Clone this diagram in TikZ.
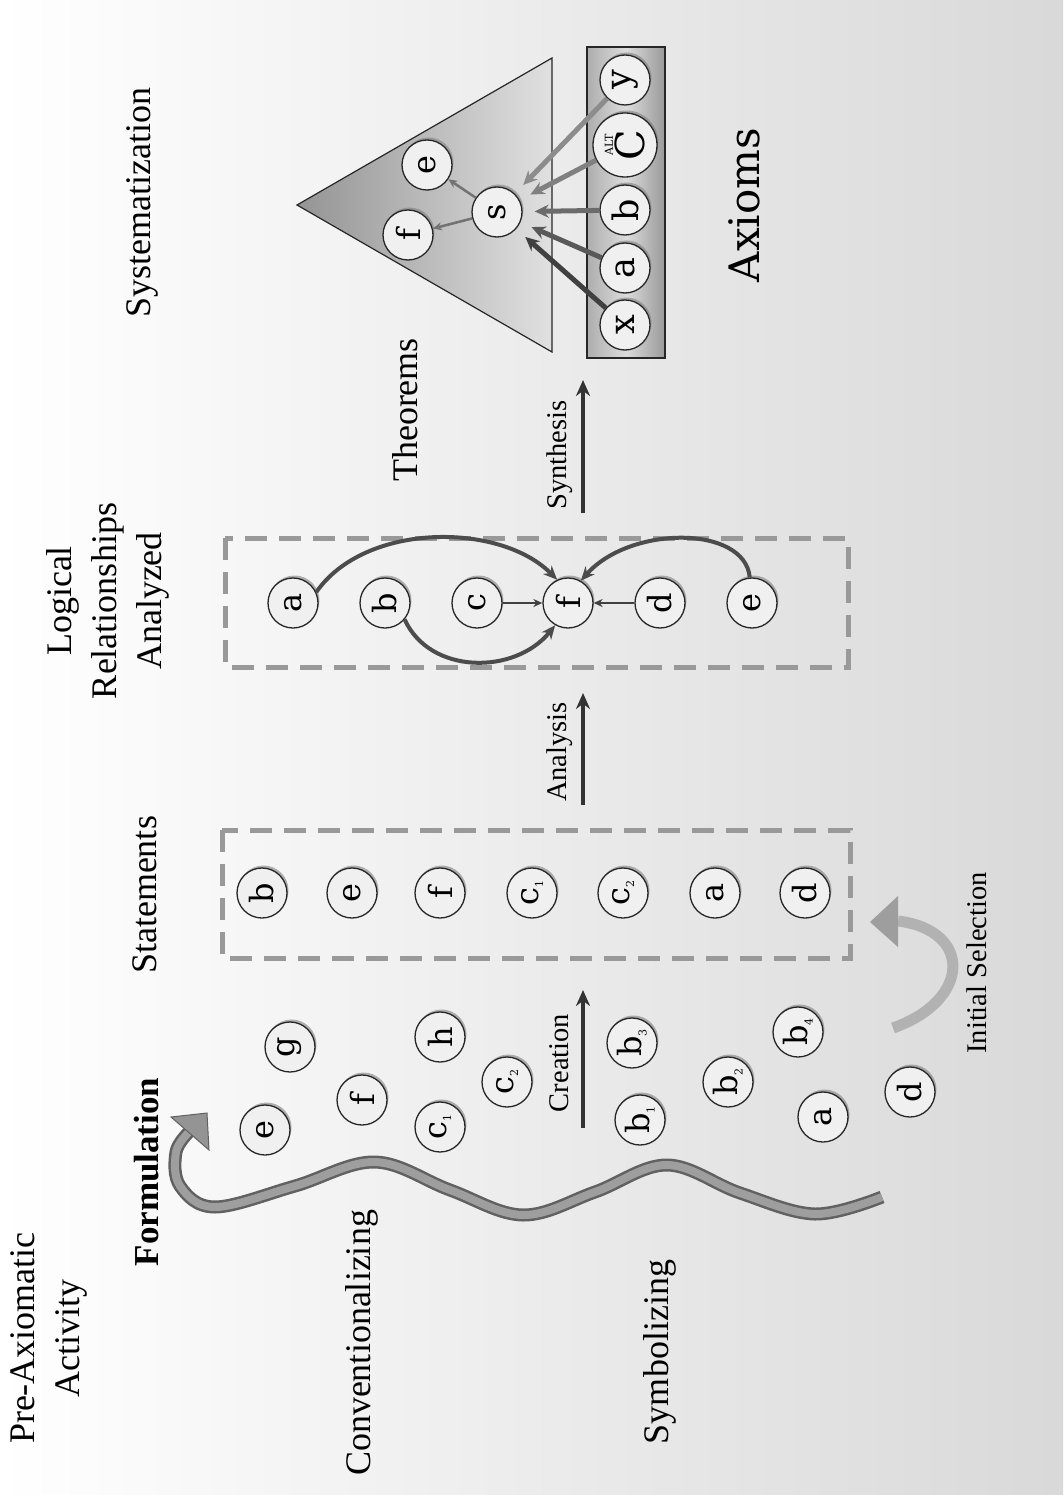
\documentclass[tikz,border=0pt]{standalone}
\usepackage{fontspec}
\setmainfont{Liberation Serif}
\newfontfamily\circfont{DejaVu Serif}
\usepackage{graphicx}
\usetikzlibrary{shadows,arrows.meta}
\newcommand\rlab[1]{\rotatebox{90}{#1}}
\newcommand\csub[2]{#1\raisebox{-5pt}{\fontsize{11}{11}\selectfont #2}}
\tikzset{
  bub/.style={circle, draw=black!85, line width=1.3pt, fill=black!6, minimum size=50pt, inner sep=0pt,
    font=\circfont\fontsize{32}{32}\selectfont,
    drop shadow={shadow xshift=1.5pt, shadow yshift=2.5pt, opacity=0.6}},
  bigbub/.style={bub, minimum size=50pt, font=\circfont\fontsize{35}{35}\selectfont},
  lbl/.style={rotate=90, font=\fontsize{36}{45}\selectfont, align=center, inner sep=0pt},
  slbl/.style={rotate=90, font=\fontsize{28.5}{30}\selectfont, inner sep=0pt},
  dashbox/.style={draw=black!40, line width=5pt, dash pattern=on 22pt off 12pt},
  flowarr/.style={draw=black!80, line width=3.5pt, -{Stealth[length=16pt,width=14pt]}},
  linkthick/.style={draw=black!70, line width=4pt, -{Stealth[length=14pt,width=12pt]}},
  linkthin/.style={draw=black!75, line width=2pt, -{Stealth[length=9pt,width=8pt]}},
  axarr/.style={line width=5pt, -{Stealth[length=14pt,width=13pt]}, shorten >=12pt},
}
\begin{document}
\begin{tikzpicture}[x=1pt,y=-1pt]
\useasboundingbox (0,0) rectangle (1063,1495);
% background
\fill[left color=white, right color=black!15] (0,0) rectangle (1063,1495);

% ---------- titles ----------
\node[lbl] (tpre) at (49,1338) {Pre-Axiomatic\\Activity};
\node[lbl, font=\bfseries\fontsize{35}{40}\selectfont] (tform) at (147,1172) {Formulation};
\node[lbl] (tconv) at (362,1343) {Conventionalizing};
\node[lbl] (tsym) at (660,1352) {Symbolizing};
\node[lbl] (tstat) at (145,895) {Statements};
\node[lbl] (tlog) at (108,601) {Logical\\Relationships\\Analyzed};
\node[lbl] (tthe) at (405,410) {Theorems};
\node[lbl] (tsys) at (142,203) {Systematization};
\node[rotate=90, inner sep=0pt, font=\circfont\fontsize{42}{42}\selectfont] (tax) at (744,205) {Axioms};

\node[slbl] (lcre) at (559,1063) {Creation};
\node[slbl] (lana) at (560,752) {Analysis};
\node[slbl] (lsyn) at (560,455) {Synthesis};
\node[slbl] (lini) at (977,963) {Initial Selection};

% ---------- flow arrows ----------
\coordinate (cr0) at (583,1128); \coordinate (cr1) at (583,990);
\coordinate (an0) at (583,805);  \coordinate (an1) at (583,693);
\coordinate (sy0) at (583,513);  \coordinate (sy1) at (583,380);
\draw[flowarr] (cr0) -- (cr1);
\draw[flowarr] (an0) -- (an1);
\draw[flowarr] (sy0) -- (sy1);

% ---------- wavy formulation arrow ----------
\draw[draw=black!62, line width=2.5pt, double=black!38, double distance=8pt]
  plot[smooth, tension=0.6] coordinates {(882,1197) (815,1214) (740,1193) (667,1165) (595,1192) (523,1215) (450,1190) (375,1162) (295,1186) (215,1207) (180,1186) (176,1152) (189,1132)};
\coordinate (wh1) at (171,1117); \coordinate (wh2) at (207,1113); \coordinate (wh3) at (209,1150);
\filldraw[fill=black!42, draw=black!62, line width=1pt] (wh1) -- (wh2) -- (wh3) -- cycle;

% ---------- initial selection arrow ----------
\coordinate (is0) at (893,1028); \coordinate (is1) at (898,921);
\draw[black!30, line width=11pt] (is0) .. controls (972,1000) and (972,930) .. (is1);
\coordinate (ih1) at (898,896); \coordinate (ih2) at (870,922); \coordinate (ih3) at (898,947);
\fill[black!38] (ih1) -- (ih2) -- (ih3) -- cycle;

% ---------- scattered statements ----------
\node[bub] (pe) at (265,1130) {\rlab{e}};
\node[bub] (pg) at (290,1047) {\rlab{g}};
\node[bub] (pf) at (362,1100) {\rlab{f}};
\node[bub] (ph) at (440,1037) {\rlab{h}};
\node[bub] (pc1) at (440,1127) {\rlab{\csub{c}{1}}};
\node[bub] (pc2) at (507,1082) {\rlab{\csub{c}{2}}};
\node[bub] (pb3) at (632,1043) {\rlab{\csub{b}{3}}};
\node[bub] (pb1) at (640,1120) {\rlab{\csub{b}{1}}};
\node[bub] (pb2) at (728,1082) {\rlab{\csub{b}{2}}};
\node[bub] (pb4) at (798,1032) {\rlab{\csub{b}{4}}};
\node[bub] (pa) at (823,1117) {\rlab{a}};
\node[bub] (pd) at (910,1092) {\rlab{d}};

% ---------- statements box ----------
\draw[dashbox] (222,830) rectangle (850,958);
\node[bub] (sb) at (262,893) {\rlab{b}};
\node[bub] (se) at (352,893) {\rlab{e}};
\node[bub] (sf) at (440,893) {\rlab{f}};
\node[bub] (sc1) at (532,893) {\rlab{\csub{c}{1}}};
\node[bub] (sc2) at (623,893) {\rlab{\csub{c}{2}}};
\node[bub] (sa) at (715,893) {\rlab{a}};
\node[bub] (sd) at (805,893) {\rlab{d}};

% ---------- logical relationships box ----------
\draw[dashbox] (225,538) rectangle (848,667);
\node[bub] (la) at (293,603) {\rlab{a}};
\node[bub] (lb) at (385,603) {\rlab{b}};
\node[bub] (lc) at (477,603) {\rlab{c}};
\node[bub] (lf) at (568,603) {\rlab{f}};
\node[bub] (ld) at (660,603) {\rlab{d}};
\node[bub] (le) at (752,603) {\rlab{e}};
\draw[linkthick] (la.25) .. controls (365,522) and (500,522) .. (lf.115);
\draw[linkthick] (lb.-40) .. controls (430,675) and (515,675) .. (lf.-120);
\draw[linkthick] (le.95) .. controls (745,525) and (630,525) .. (lf.60);
\draw[linkthin] (lc) -- (lf);
\draw[linkthin] (ld) -- (lf);

% ---------- systematization ----------
\shadedraw[left color=black!42, right color=black!12, draw=black!85, line width=1.2pt]
  (297,205) -- (552,58) -- (552,352) -- cycle;
\shadedraw[left color=black!32, right color=black!40, middle color=black!14, draw=black!85, line width=1.5pt]
  (587,47) rectangle (665,358);
\node[bub] (ts) at (497,212) {\rlab{s}};
\node[bub] (te) at (427,165) {\rlab{e}};
\node[bub] (tf) at (408,235) {\rlab{f}};
\draw[linkthin, draw=black!55, line width=2.5pt] (ts) -- (te);
\draw[linkthin, draw=black!55, line width=2.5pt] (ts) -- (tf);
\node[bigbub] (ay) at (625,80) {\rlab{y}};
\node[bigbub, minimum size=64pt] (aC) at (625,145) {\rlab{\shortstack{\fontsize{11}{11}\selectfont ALT\\[-1pt]\fontsize{40}{36}\selectfont C}}};
\node[bigbub] (ab) at (625,210) {\rlab{b}};
\node[bigbub] (aa) at (625,268) {\rlab{a}};
\node[bigbub] (ax) at (625,325) {\rlab{x}};
\draw[axarr, draw=black!75] (ax) -- (ts);
\draw[axarr, draw=black!65] (aa) -- (ts);
\draw[axarr, draw=black!58] (ab) -- (ts);
\draw[axarr, draw=black!50] (aC) -- (ts);
\draw[axarr, draw=black!45] (ay) -- (ts);
\end{tikzpicture}
\end{document}
